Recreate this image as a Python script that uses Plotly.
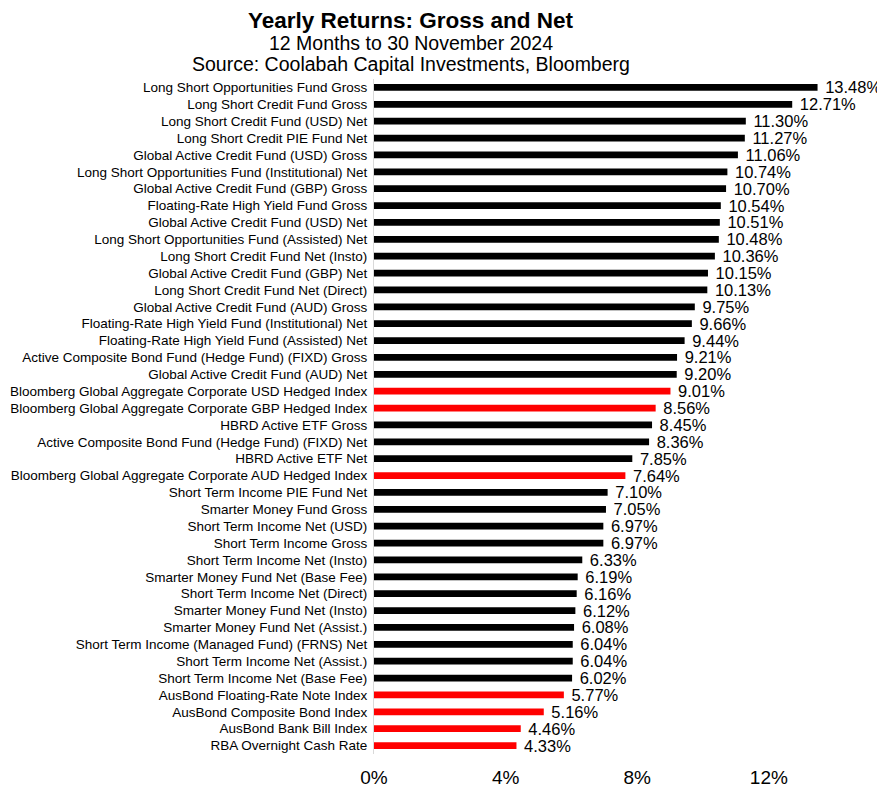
import plotly.graph_objects as go

categories = [
    "Long Short Opportunities Fund Gross",
    "Long Short Credit Fund Gross",
    "Long Short Credit Fund (USD) Net",
    "Long Short Credit PIE Fund Net",
    "Global Active Credit Fund (USD) Gross",
    "Long Short Opportunities Fund (Institutional) Net",
    "Global Active Credit Fund (GBP) Gross",
    "Floating-Rate High Yield Fund Gross",
    "Global Active Credit Fund (USD) Net",
    "Long Short Opportunities Fund (Assisted) Net",
    "Long Short Credit Fund Net (Insto)",
    "Global Active Credit Fund (GBP) Net",
    "Long Short Credit Fund Net (Direct)",
    "Global Active Credit Fund (AUD) Gross",
    "Floating-Rate High Yield Fund (Institutional) Net",
    "Floating-Rate High Yield Fund (Assisted) Net",
    "Active Composite Bond Fund (Hedge Fund) (FIXD) Gross",
    "Global Active Credit Fund (AUD) Net",
    "Bloomberg Global Aggregate Corporate USD Hedged Index",
    "Bloomberg Global Aggregate Corporate GBP Hedged Index",
    "HBRD Active ETF Gross",
    "Active Composite Bond Fund (Hedge Fund) (FIXD) Net",
    "HBRD Active ETF Net",
    "Bloomberg Global Aggregate Corporate AUD Hedged Index",
    "Short Term Income PIE Fund Net",
    "Smarter Money Fund Gross",
    "Short Term Income Net (USD)",
    "Short Term Income Gross",
    "Short Term Income Net (Insto)",
    "Smarter Money Fund Net (Base Fee)",
    "Short Term Income Net (Direct)",
    "Smarter Money Fund Net (Insto)",
    "Smarter Money Fund Net (Assist.)",
    "Short Term Income (Managed Fund) (FRNS) Net",
    "Short Term Income Net (Assist.)",
    "Short Term Income Net (Base Fee)",
    "AusBond Floating-Rate Note Index",
    "AusBond Composite Bond Index",
    "AusBond Bank Bill Index",
    "RBA Overnight Cash Rate",
]

returns = [
    13.48, 12.71, 11.30, 11.27, 11.06, 10.74, 10.70, 10.54, 10.51, 10.48,
    10.36, 10.15, 10.13, 9.75, 9.66, 9.44, 9.21, 9.20, 9.01, 8.56,
    8.45, 8.36, 7.85, 7.64, 7.10, 7.05, 6.97, 6.97, 6.33, 6.19,
    6.16, 6.12, 6.08, 6.04, 6.04, 6.02, 5.77, 5.16, 4.46, 4.33,
]

benchmarks = {
    "Bloomberg Global Aggregate Corporate USD Hedged Index",
    "Bloomberg Global Aggregate Corporate GBP Hedged Index",
    "Bloomberg Global Aggregate Corporate AUD Hedged Index",
    "AusBond Floating-Rate Note Index",
    "AusBond Composite Bond Index",
    "AusBond Bank Bill Index",
    "RBA Overnight Cash Rate",
}

x_ticks = [0, 4, 8, 12]
x_tick_labels = ["0%", "4%", "8%", "12%"]

title_text = "<b>Yearly Returns: Gross and Net</b>"
subtitle_text = "12 Months to 30 November 2024"
source_text = "Source: Coolabah Capital Investments, Bloomberg"

FONT = "Liberation Sans Narrow, Arial Narrow, Liberation Sans, Arial, sans-serif"

# figure geometry (page body adds an 8px offset)
W, H = 877, 781
ML, MR, MT, MB = 366, 0, 71, 35
plot_w = W - ML - MR
plot_h = H - MT - MB

colors = ["#FF0000" if c in benchmarks else "#000000" for c in categories]

fig = go.Figure(
    go.Bar(
        x=returns,
        y=categories,
        orientation="h",
        marker=dict(color=colors, line=dict(width=0)),
        text=[f"\u00a0{v:.2f}%" for v in returns],
        textposition="outside",
        constraintext="none",
        textfont=dict(family=FONT, size=16.5, color="#000000"),
        cliponaxis=False,
        hoverinfo="x+y",
    )
)


def ann(text, px, py, size):
    return dict(
        text=text, xref="paper", yref="paper",
        x=(px - ML) / plot_w, y=1 + (MT - py) / plot_h,
        xanchor="center", yanchor="middle", showarrow=False,
        font=dict(family=FONT, size=size, color="#000000"),
    )


fig.update_layout(
    width=W,
    height=H,
    margin=dict(l=ML, r=MR, t=MT, b=MB, autoexpand=False),
    paper_bgcolor="white",
    plot_bgcolor="white",
    bargap=0.6,
    showlegend=False,
    font=dict(family=FONT, color="#000000"),
    xaxis=dict(
        range=[0, 15.53],
        tickvals=x_ticks,
        ticktext=x_tick_labels,
        tickfont=dict(family=FONT, size=19, color="#000000"),
        showgrid=False,
        zeroline=False,
        showline=False,
        ticks="",
        ticklabelstandoff=10,
        automargin=False,
    ),
    yaxis=dict(
        autorange="reversed",
        tickfont=dict(family=FONT, size=13.5, color="#000000"),
        showgrid=False,
        zeroline=False,
        showline=True,
        linecolor="#D9D9D9",
        linewidth=1,
        ticks="",
        ticklabelstandoff=3,
        automargin=False,
    ),
    annotations=[
        ann(title_text, 403, 12.5, 22.5),
        ann(subtitle_text, 403, 35, 19.5),
        ann(source_text, 403, 56, 19.5),
    ],
)

fig.write_html("out.html")
